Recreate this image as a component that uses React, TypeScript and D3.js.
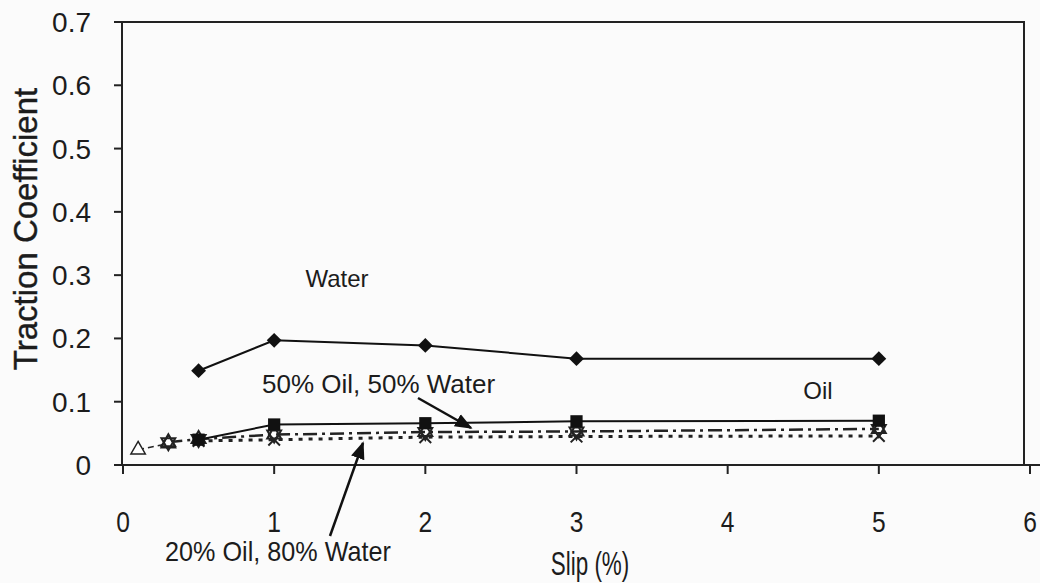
import React from "react";
import * as d3 from "d3";

// Traction coefficient vs. slip for different lubricants
const waterSlip = [0.5, 1, 2, 3, 5];
const waterTc = [0.149, 0.197, 0.189, 0.168, 0.168];

const oilSlip = [0.5, 1, 2, 3, 5];
const oilTc = [0.04, 0.064, 0.066, 0.069, 0.07];

const mix50Slip = [0.3, 0.5, 1, 2, 3, 5];
const mix50Tc = [0.036, 0.041, 0.048, 0.052, 0.053, 0.057];

const mix20Slip = [0.5, 1, 2, 3, 5];
const mix20Tc = [0.038, 0.04, 0.044, 0.045, 0.046];

const lowSlip = [0.1, 0.3];
const lowTc = [0.024, 0.034];

const xTicks = [0, 1, 2, 3, 4, 5, 6];
const yTicks = [0, 0.1, 0.2, 0.3, 0.4, 0.5, 0.6, 0.7];

const W = 1040;
const H = 583;
const FONT = "'Liberation Sans', Arial, sans-serif";

const x = d3.scaleLinear().domain([0, 6]).range([123, 1030]);
const y = d3.scaleLinear().domain([0, 0.7]).range([465, 22]);

const zip = (xs: number[], ys: number[]) => xs.map((v, i) => [v, ys[i]] as [number, number]);
const line = d3
  .line<[number, number]>()
  .x((d) => x(d[0]))
  .y((d) => y(d[1]));

const hexagram = (r: number) => {
  const tri = (rot: number) =>
    d3.range(3).map((i) => {
      const a = rot + (i * 2 * Math.PI) / 3;
      return [r * Math.sin(a), -r * Math.cos(a)];
    });
  const p = (pts: number[][]) => "M" + pts.map((q) => q.join(",")).join("L") + "Z";
  return p(tri(0)) + p(tri(Math.PI));
};

export default function App() {
  const water = zip(waterSlip, waterTc);
  const oil = zip(oilSlip, oilTc);
  const mix50 = zip(mix50Slip, mix50Tc);
  const mix20 = zip(mix20Slip, mix20Tc);
  const low = zip(lowSlip, lowTc);

  // diamond drawn as a square turned by 45 degrees
  const diamond = d3.symbol().type(d3.symbolSquare).size(110)()!;
  const square = d3.symbol().type(d3.symbolSquare).size(150)()!;
  const cross = d3.symbol().type(d3.symbolX).size(90)()!;
  const triangle = d3.symbol().type(d3.symbolTriangle).size(90)()!;
  const star = hexagram(8);

  const y0 = y(0);
  const xLeft = x(0) - 1;
  const ink = "#1c1c1c";

  return (
    <svg
      width={W}
      height={H}
      style={{ position: "absolute", left: 0, top: 0, background: "#fbfbfb" }}
      fontFamily={FONT}
    >
      {/* plot frame */}
      <path
        d={`M${xLeft},${y0}V${y(0.7)}H1024V${y0}`}
        fill="none"
        stroke="#222"
        strokeWidth={2}
      />
      <line x1={xLeft} x2={1040} y1={y0} y2={y0} stroke="#222" strokeWidth={2} />

      {/* y axis ticks */}
      {yTicks.map((t) => (
        <g key={"y" + t}>
          <line x1={xLeft - 8} x2={xLeft} y1={y(t)} y2={y(t)} stroke="#222" strokeWidth={2} />
          <text x={91} y={y(t) + 10} textAnchor="end" fontSize={28} fill={ink}>
            {t === 0 ? "0" : t.toFixed(1)}
          </text>
        </g>
      ))}

      {/* x axis ticks */}
      {xTicks.map((t) => (
        <g key={"x" + t}>
          <line x1={x(t)} x2={x(t)} y1={y0} y2={y0 + 9} stroke="#222" strokeWidth={2} />
          <text
            transform={`translate(${x(t)},${y0 + 67}) scale(0.82,1)`}
            textAnchor="middle"
            fontSize={30}
            fill={ink}
          >
            {t}
          </text>
        </g>
      ))}

      {/* axis titles */}
      <text
        transform={`translate(37,229) rotate(-90)`}
        textAnchor="middle"
        fontSize={33}
        fill={ink}
        stroke={ink}
        strokeWidth={0.4}
      >
        Traction Coefficient
      </text>
      <text
        transform={`translate(590,575) scale(0.68,1)`}
        textAnchor="middle"
        fontSize={33}
        fill={ink}
      >
        Slip (%)
      </text>

      {/* series lines */}
      <path d={line(low)!} fill="none" stroke="#222" strokeWidth={1.5} strokeDasharray="6,4" />
      <path d={line(mix20)!} fill="none" stroke="#222" strokeWidth={3} strokeDasharray="4,6" />
      <path d={line(mix50)!} fill="none" stroke="#222" strokeWidth={2.5} strokeDasharray="14,5,3,5" />
      <path d={line(oil)!} fill="none" stroke="#111" strokeWidth={2} />
      <path d={line(water)!} fill="none" stroke="#111" strokeWidth={2} />

      {/* markers */}
      {low.map((d, i) => (
        <path key={"t" + i} d={triangle} transform={`translate(${x(d[0])},${y(d[1])})`} fill="#fff" stroke="#222" strokeWidth={1.5} />
      ))}
      {mix20.map((d, i) => (
        <path key={"c" + i} d={cross} transform={`translate(${x(d[0])},${y(d[1])})`} fill="none" stroke="#222" strokeWidth={2} />
      ))}
      {mix50.map((d, i) => (
        <path key={"s" + i} d={star} transform={`translate(${x(d[0])},${y(d[1])})`} fill="none" stroke="#222" strokeWidth={2} />
      ))}
      {oil.map((d, i) => (
        <path key={"q" + i} d={square} transform={`translate(${x(d[0])},${y(d[1])})`} fill="#111" />
      ))}
      {water.map((d, i) => (
        <path key={"w" + i} d={diamond} transform={`translate(${x(d[0])},${y(d[1])}) rotate(45)`} fill="#111" />
      ))}

      {/* annotations */}
      <text x={337} y={287} textAnchor="middle" fontSize={24} fill={ink}>Water</text>
      <text x={818} y={399} textAnchor="middle" fontSize={24} fill={ink}>Oil</text>
      <text x={262} y={393} fontSize={26} fill={ink}>50% Oil, 50% Water</text>
      <text
        transform={`translate(278,561) scale(0.9,1)`}
        textAnchor="middle"
        fontSize={28}
        fill={ink}
      >
        20% Oil, 80% Water
      </text>

      <defs>
        <marker id="head" viewBox="0 0 10 10" refX="9" refY="5" markerWidth="7" markerHeight="7" orient="auto">
          <path d="M0,1L10,5L0,9Z" fill="#111" />
        </marker>
      </defs>
      <line x1={418} y1={398} x2={471} y2={428} stroke="#111" strokeWidth={2.5} markerEnd="url(#head)" />
      <line x1={330} y1={536} x2={363} y2={443} stroke="#111" strokeWidth={2.5} markerEnd="url(#head)" />
    </svg>
  );
}
